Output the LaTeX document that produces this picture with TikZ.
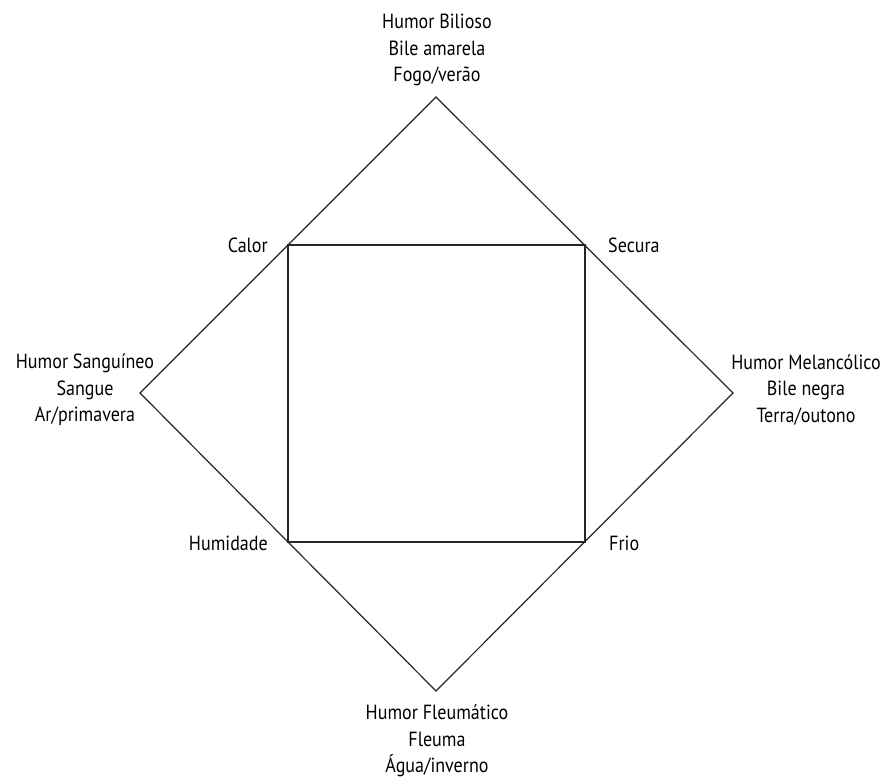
\documentclass[tikz,border=0pt]{standalone}
\usepackage{fontspec}
\setmainfont{PT Sans}[FakeStretch=0.88]
\usetikzlibrary{positioning}

\begin{document}
\begin{tikzpicture}[x=1pt, y=-1pt,
  edge/.style={draw, line width=1.2pt, black!85},
  humor/.style={align=center, font=\fontsize{20.5}{26.5}\selectfont, inner sep=0pt},
  quality/.style={font=\fontsize{20.5}{24}\selectfont, inner sep=0pt},
]
  \useasboundingbox (0,0) rectangle (886,778);

  % Outer diamond corners
  \coordinate (top) at (436,97);
  \coordinate (right) at (733,393);
  \coordinate (bottom) at (436,691);
  \coordinate (left) at (140,393);
  % Inner square corners
  \coordinate (calor) at (288,245);
  \coordinate (secura) at (585,245);
  \coordinate (frio) at (585,542);
  \coordinate (humid) at (288,542);

  \draw[edge] (top) -- (right) -- (bottom) -- (left) -- cycle;
  \draw[edge] (calor) -- (secura) -- (frio) -- (humid) -- cycle;

  % Humors
  \node[humor] (bilioso) at (437,50) {Humor Bilioso\\Bile amarela\\Fogo/verão};
  \node[humor] (sanguineo) at (85,390) {Humor Sanguíneo\\Sangue\\Ar/primavera};
  \node[humor] (melanc) at (806,390) {Humor Melancólico\\Bile negra\\Terra/outono};
  \node[humor] (fleum) at (437,741) {Humor Fleumático\\Fleuma\\Água/inverno};

  % Qualities
  \node[quality, anchor=base east] (calorlbl) at (268,252) {Calor};
  \node[quality, anchor=base west] (securalbl) at (608,252) {Secura};
  \node[quality, anchor=base east] (humidlbl) at (268,550) {Humidade};
  \node[quality, anchor=base west] (friolbl) at (609,550) {Frio};
\end{tikzpicture}
\end{document}
